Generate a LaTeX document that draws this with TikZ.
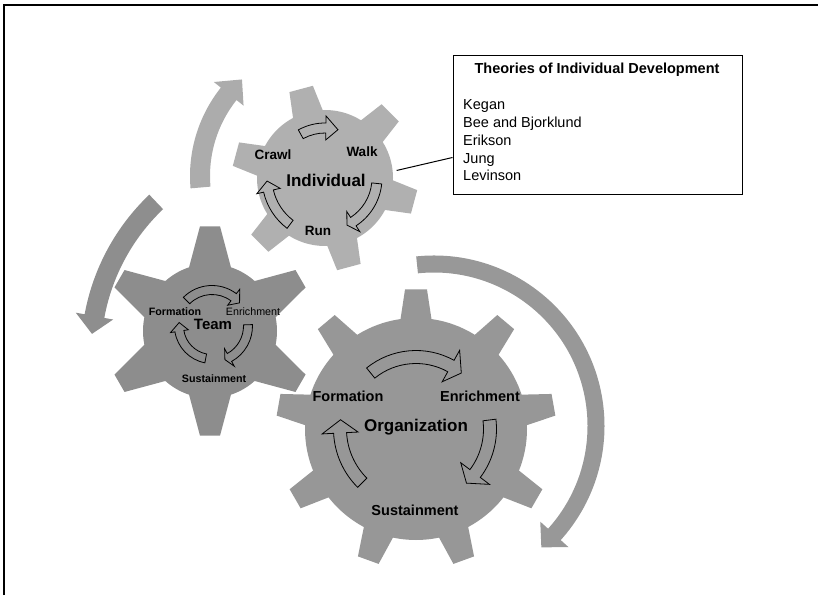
\documentclass[tikz,border=0pt]{standalone}
\usepackage{fontspec}
\setmainfont{Liberation Sans}
\usepackage{xcolor}
\usepackage{tikz}
\usetikzlibrary{calc}
\definecolor{indgray}{RGB}{176,176,176}
\definecolor{teamgray}{RGB}{141,141,141}
\definecolor{orggray}{RGB}{151,151,151}
\definecolor{arclight}{RGB}{172,172,172}
\definecolor{arcdark}{RGB}{142,142,142}
\definecolor{arcmid}{RGB}{152,152,152}
\tikzstyle{centered} = [align=center, text centered, inner sep=0pt]
\tikzset{
  % label styles
  gearname/.style={centered, font=\bfseries\fontsize{17}{17}\selectfont},
  indstep/.style={centered, font=\bfseries\fontsize{13.5}{13.5}\selectfont},
  teamstep/.style={centered, font=\bfseries\fontsize{10.7}{10.7}\selectfont},
  orgstep/.style={centered, font=\bfseries\fontsize{14.5}{14.5}\selectfont},
  % box styles
  infobox/.style={draw, line width=1pt, fill=white, inner sep=0pt},
  boxtitle/.style={centered, font=\bfseries\fontsize{14.5}{14.5}\selectfont},
  boxitem/.style={inner sep=0pt, font=\fontsize{14.5}{17}\selectfont},
  % arrow styles
  steparrow/.style={draw=black, line width=0.8pt, line join=miter},
}
% gear: colour, centre, root radius, tip radius, teeth, first tooth, half angle at root, half angle at tip
\newcommand{\gearshape}[8]{%
  \begin{scope}[shift={#2}]
    \fill[#1] (0,0) circle (#3);
    \foreach \k in {1,...,#5}{
      \pgfmathsetmacro{\ga}{#6+(\k-1)*360/#5}
      \fill[#1] ({\ga-#7}:{#3-3}) -- ({\ga-#8}:{#4}) -- ({\ga+#8}:{#4}) -- ({\ga+#7}:{#3-3}) -- cycle;
    }
  \end{scope}}
% bent block arrow round the origin: radius, half width, tail angle, head angle, head half width, tip angle
\newcommand{\roundarrow}[7][]{%
  \path[#1] (#4:{#2+#3}) arc[start angle=#4, end angle=#5, radius={#2+#3}]
    -- (#5:{#2+#6}) -- (#7:#2) -- (#5:{#2-#6}) -- (#5:{#2-#3})
    arc[start angle=#5, end angle=#4, radius={#2-#3}] -- cycle;}

\begin{document}
\begin{tikzpicture}[x=1pt,y=1pt]
  \useasboundingbox (0,0) rectangle (818,595);
  \draw[line width=2pt] (4,0) -- (4,590) -- (818,590);
  % gear centres
  \coordinate (ind-c) at (325,417);
  \coordinate (team-c) at (210,264);
  \coordinate (org-c) at (416,166);
  % gears
  \gearshape{teamgray}{(team-c)}{67}{105}{6}{90}{20}{5.5}
  \gearshape{indgray}{(ind-c)}{68}{93}{6}{105}{14}{7.5}
  \gearshape{orggray}{(org-c)}{111}{140}{9}{90}{8.5}{4.5}
  % turning arrows
  \begin{scope}[shift={(332,419)}]
    \roundarrow[fill=arclight]{132}{10}{185}{141.5}{19}{133}
  \end{scope}
  \begin{scope}[shift={(301,241)}]
    \roundarrow[fill=arcdark]{210}{10}{133.6}{169.6}{19}{174.5}
  \end{scope}
  \begin{scope}[shift={(434,169)}]
    \roundarrow[fill=arcmid]{162}{8.5}{96}{-42}{19}{-48.5}
  \end{scope}
  % Individual
  \begin{scope}[shift={(ind-c)}]
    \roundarrow[steparrow]{50}{5}{119}{89}{12}{75}
    \roundarrow[steparrow]{52}{5}{-6}{-57}{12}{-65}
    \roundarrow[steparrow]{58}{5}{233}{193}{12}{183}
  \end{scope}
  \node(ind)[gearname] at (326,415) {Individual};
  \node(ind-crawl)[indstep] at (273,440) {Crawl};
  \node(ind-walk)[indstep] at (362,443) {Walk};
  \node(ind-run)[indstep] at (318,364) {Run};
  % Team
  \begin{scope}[shift={(212,269)}]
    \roundarrow[steparrow]{36}{4.5}{135}{53}{10}{40}
    \roundarrow[steparrow]{36}{4.5}{2}{-61}{10}{-69}
    \roundarrow[steparrow]{33}{4.5}{259}{189}{9}{174}
  \end{scope}
  \node(team)[gearname, font=\bfseries\fontsize{15}{15}\selectfont] at (213,271) {Team};
  \node(team-form)[teamstep] at (175,283) {Formation};
  \node(team-enr)[teamstep, font=\fontsize{10.7}{10.7}\selectfont] at (253,283) {Enrichment};
  \node(team-sus)[teamstep] at (214,216) {Sustainment};
  % Organization
  \begin{scope}[shift={(org-c)}]
    \roundarrow[steparrow]{72}{6.5}{129}{61}{18}{51}
    \roundarrow[steparrow]{74}{6.5}{7}{-37}{18}{-47}
    \roundarrow[steparrow]{76}{6.5}{225}{183}{18}{173}
  \end{scope}
  \node(org)[gearname] at (416,168) {Organization};
  \node(org-form)[orgstep] at (348,199) {Formation};
  \node(org-enr)[orgstep] at (480,199) {Enrichment};
  \node(org-sus)[orgstep] at (415,85) {Sustainment};
  % theories box
  \node(theories)[infobox, minimum width=289pt, minimum height=139pt] at (597.5,469.5) {};
  \node(theories-title)[boxtitle] at (597,525) {Theories of Individual Development};
  \foreach \who [count=\i] in {Kegan, Bee and Bjorklund, Erikson, Jung, Levinson}
    \node(theory-\i)[boxitem, anchor=base west] at (463,{485-(\i-1)*17.7}) {\who};
  \coordinate (ind-rim) at ($(ind-c)+(6:72)$);
  \draw[line width=1pt] (ind-rim) -- ([yshift=38pt]theories.south west);
\end{tikzpicture}
\end{document}
